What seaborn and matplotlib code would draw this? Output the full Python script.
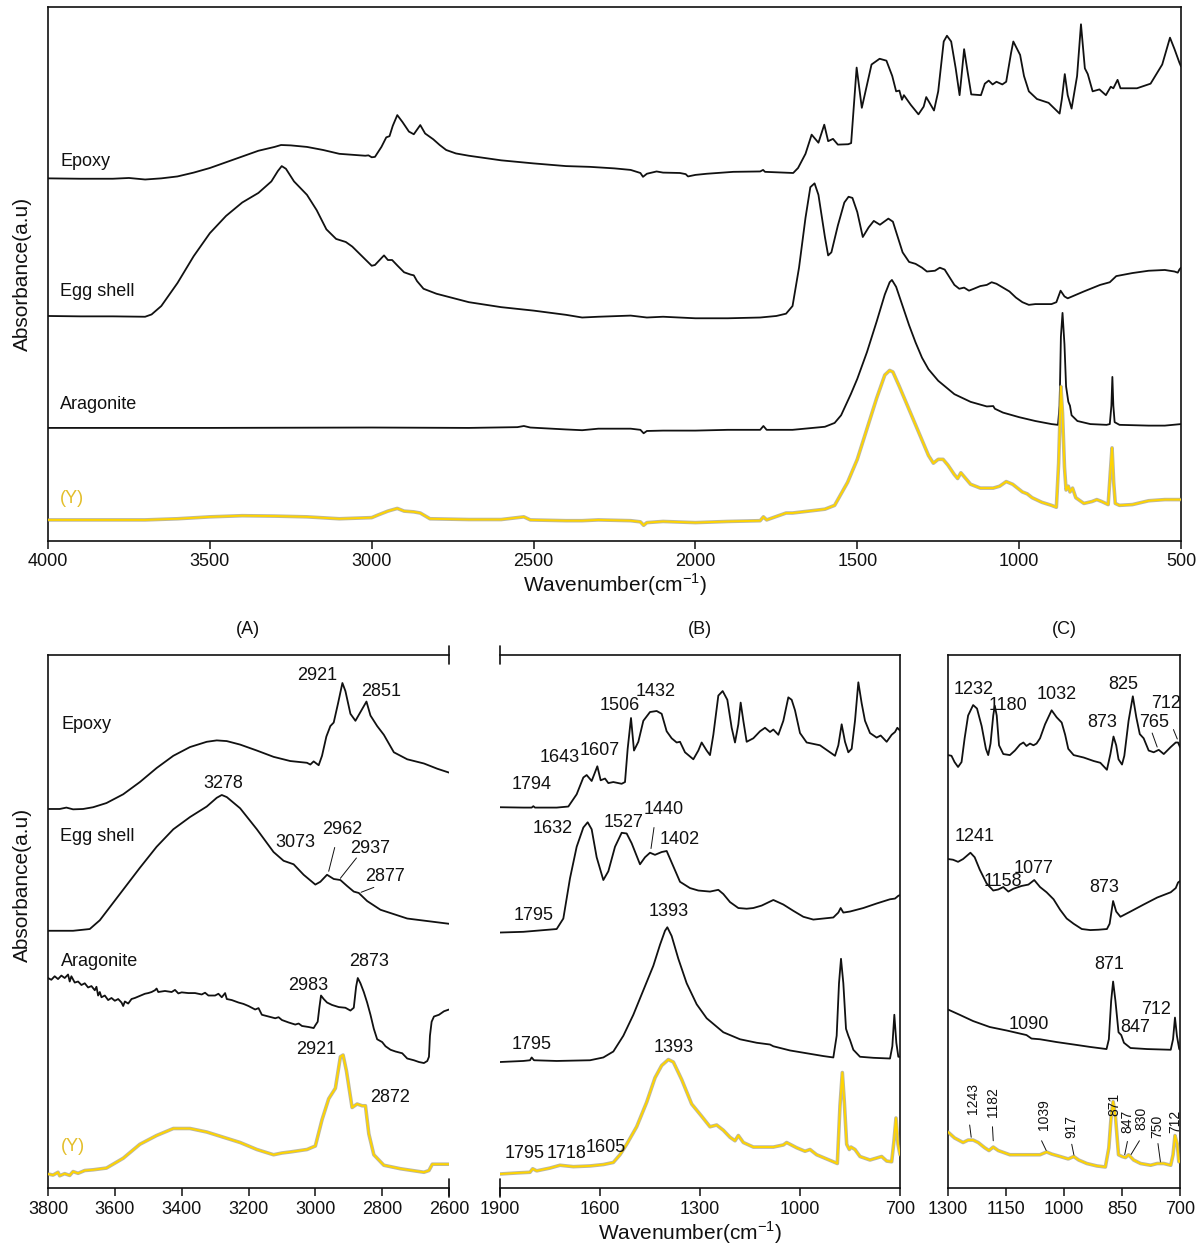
import matplotlib
matplotlib.use("Agg")
import matplotlib.pyplot as plt
import matplotlib.patheffects as pe
import seaborn as sns

sns.set_theme(style="ticks")
plt.rcParams["font.family"] = ["Liberation Sans", "DejaVu Sans"]
plt.rcParams["mathtext.fontset"] = "custom"
plt.rcParams["mathtext.rm"] = "Liberation Sans"

# ---------------- data: (wavenumber cm-1, absorbance a.u.) ----------------
TOP_EPOXY = [(4000,946),(3900,945),(3800,945),(3750,947),(3700,943),(3650,946),(3600,951),(3550,961),(3500,973),(3450,988),(3400,1003),(3350,1018),(3300,1028),(3280,1033),(3250,1032),(3200,1028),(3150,1020),(3100,1010),(3050,1007),(3020,1005),(3010,1006),(3000,1001),(2990,1002),(2970,1028),(2955,1053),(2945,1056),(2935,1083),(2921,1111),(2905,1093),(2885,1068),(2870,1061),(2860,1073),(2850,1085),(2835,1063),(2810,1048),(2790,1033),(2770,1020),(2740,1011),(2700,1005),(2600,993),(2500,985),(2400,978),(2326,976),(2250,972),(2200,968),(2170,960),(2162,950),(2150,958),(2120,964),(2100,961),(2048,960),(2030,957),(2023,951),(2000,955),(1965,958),(1883,963),(1800,964),(1791,968),(1785,963),(1698,960),(1683,973),(1660,1010),(1641,1060),(1620,1039),(1602,1086),(1590,1043),(1575,1049),(1560,1034),(1528,1035),(1519,1038),(1502,1235),(1486,1130),(1456,1243),(1431,1258),(1410,1253),(1392,1213),(1380,1173),(1370,1175),(1362,1151),(1356,1163),(1335,1138),(1311,1113),(1295,1133),(1287,1158),(1263,1123),(1250,1173),(1233,1303),(1223,1318),(1210,1303),(1196,1233),(1184,1163),(1178,1213),(1170,1283),(1160,1228),(1148,1165),(1118,1163),(1106,1193),(1094,1201),(1082,1191),(1070,1198),(1052,1191),(1040,1198),(1025,1273),(1018,1303),(997,1268),(985,1213),(970,1173),(945,1153),(909,1143),(885,1123),(875,1115),(868,1153),(859,1218),(850,1163),(838,1128),(821,1213),(809,1348),(797,1233),(788,1218),(773,1173),(752,1178),(732,1163),(717,1185),(709,1181),(696,1203),(687,1181),(636,1181),(594,1193),(558,1243),(534,1313),(520,1283),(505,1248),(500,1238)]
TOP_EGG = [(4000,587),(3900,586),(3800,586),(3700,585),(3680,591),(3650,613),(3600,673),(3550,743),(3500,803),(3450,848),(3400,883),(3350,908),(3310,938),(3290,965),(3278,978),(3265,971),(3240,938),(3200,903),(3170,863),(3140,813),(3110,788),(3080,780),(3060,768),(3030,743),(3000,718),(2990,720),(2970,738),(2962,745),(2950,733),(2937,733),(2920,718),(2900,701),(2880,695),(2870,693),(2860,678),(2840,658),(2800,645),(2700,623),(2600,610),(2500,601),(2400,590),(2350,583),(2300,585),(2200,588),(2150,583),(2100,585),(2000,581),(1900,581),(1800,583),(1750,587),(1720,593),(1700,613),(1680,713),(1660,843),(1645,923),(1632,933),(1620,903),(1600,793),(1590,745),(1580,753),(1560,823),(1540,883),(1527,898),(1515,895),(1500,858),(1483,793),(1465,818),(1449,835),(1430,825),(1404,841),(1390,833),(1375,793),(1360,753),(1340,728),(1320,723),(1300,713),(1285,703),(1260,705),(1245,713),(1230,708),(1215,688),(1200,668),(1185,658),(1170,661),(1155,653),(1140,658),(1120,665),(1100,668),(1085,675),(1070,671),(1050,661),(1030,651),(1010,635),(990,623),(970,616),(950,618),(900,618),(885,623),(872,653),(860,638),(850,633),(800,651),(750,668),(720,675),(700,691),(650,699),(600,705),(550,707),(520,703),(510,700),(505,708),(500,713)]
TOP_ARAG = [(4000,295),(3500,295),(3000,296),(2700,295),(2550,297),(2530,300),(2510,296),(2400,291),(2350,289),(2300,293),(2200,293),(2170,290),(2160,281),(2150,287),(2100,288),(2000,288),(1900,290),(1800,290),(1790,300),(1780,290),(1700,290),(1600,298),(1570,308),(1550,328),(1520,383),(1500,423),(1470,493),(1440,573),(1415,643),(1400,675),(1393,681),(1380,663),(1360,613),(1340,563),(1320,518),(1300,478),(1280,448),(1250,418),(1200,383),(1150,363),(1100,351),(1080,352),(1075,345),(1050,335),(1000,323),(950,313),(900,305),(880,303),(875,353),(871,533),(866,595),(860,513),(855,403),(848,363),(843,353),(838,328),(820,313),(780,305),(730,303),(720,305),(715,353),(712,428),(709,353),(705,310),(690,303),(600,301),(550,301),(500,305)]
TOP_Y = [(4000,55),(3700,55),(3600,58),(3500,63),(3400,66),(3300,65),(3200,63),(3100,58),(3000,61),(2980,68),(2950,78),(2921,85),(2900,78),(2870,76),(2850,73),(2820,58),(2700,56),(2600,56),(2530,63),(2510,55),(2400,53),(2350,53),(2300,55),(2200,53),(2170,50),(2160,41),(2150,48),(2100,51),(2000,48),(1900,51),(1800,53),(1790,63),(1780,55),(1720,73),(1700,73),(1650,78),(1600,83),(1570,93),(1550,123),(1530,153),(1500,213),(1470,293),(1440,373),(1415,433),(1400,445),(1390,441),(1370,403),(1340,343),(1320,303),(1300,263),(1280,223),(1265,203),(1250,213),(1235,213),(1220,198),(1200,173),(1190,163),(1180,178),(1170,168),(1150,148),(1120,138),(1080,138),(1060,143),(1040,155),(1020,148),(990,128),(975,123),(960,113),(930,101),(900,93),(885,88),(878,203),(871,403),(866,333),(860,193),(855,133),(848,143),(843,128),(835,138),(825,113),(800,98),(775,103),(760,108),(745,103),(725,95),(718,183),(713,243),(708,153),(703,98),(690,93),(650,95),(600,105),(550,108),(500,108)]

A_EPOXY = [(3800,1083),(3765,1083),(3745,1087),(3725,1082),(3695,1083),(3665,1088),(3625,1100),(3575,1125),(3525,1160),(3475,1200),(3425,1235),(3375,1260),(3325,1275),(3295,1279),(3265,1277),(3225,1267),(3175,1250),(3125,1232),(3075,1220),(3025,1215),(3015,1210),(3005,1219),(2990,1208),(2980,1235),(2967,1290),(2955,1320),(2945,1330),(2932,1385),(2919,1443),(2910,1420),(2895,1355),(2880,1335),(2865,1360),(2847,1390),(2835,1350),(2815,1320),(2795,1295),(2765,1245),(2725,1225),(2675,1213),(2635,1198),(2600,1187)]
A_EGG = [(3800,735),(3725,735),(3675,740),(3645,765),(3605,815),(3565,865),(3525,915),(3475,975),(3425,1025),(3375,1060),(3325,1090),(3295,1115),(3280,1123),(3265,1117),(3225,1085),(3175,1025),(3125,960),(3095,935),(3065,925),(3035,895),(3000,867),(2985,875),(2965,895),(2945,883),(2925,880),(2905,863),(2885,847),(2870,843),(2845,820),(2805,795),(2725,770),(2600,755)]
A_ARAG = [(3800,600),(3790,595),(3780,605),(3770,597),(3760,607),(3750,600),(3740,610),(3735,590),(3730,605),(3720,587),(3710,590),(3700,580),(3690,585),(3680,573),(3670,577),(3660,565),(3655,575),(3650,550),(3645,560),(3640,545),(3630,550),(3620,537),(3610,543),(3600,535),(3590,540),(3580,530),(3575,520),(3570,533),(3560,527),(3550,540),(3540,543),(3530,547),(3520,551),(3510,555),(3500,557),(3490,560),(3480,565),(3475,570),(3470,560),(3450,563),(3430,560),(3420,566),(3410,556),(3400,559),(3380,557),(3360,557),(3340,553),(3330,558),(3320,550),(3300,550),(3290,555),(3280,545),(3270,557),(3265,540),(3250,537),(3230,530),(3215,526),(3200,520),(3180,510),(3170,514),(3160,495),(3140,490),(3120,485),(3110,488),(3100,480),(3080,473),(3060,467),(3050,470),(3040,463),(3020,460),(3005,457),(3000,465),(2993,475),(2988,515),(2983,550),(2975,540),(2965,530),(2950,523),(2930,517),(2910,515),(2895,507),(2885,515),(2878,575),(2873,600),(2865,585),(2855,560),(2845,530),(2835,495),(2825,455),(2815,425),(2800,417),(2790,405),(2775,395),(2760,390),(2740,385),(2725,370),(2705,365),(2690,360),(2675,357),(2665,363),(2660,375),(2657,435),(2652,475),(2645,490),(2630,495),(2615,505),(2600,510)]
A_Y = [(3800,40),(3785,37),(3770,45),(3765,35),(3750,41),(3735,36),(3725,47),(3710,42),(3690,50),(3665,52),(3625,57),(3575,85),(3525,125),(3475,150),(3425,170),(3375,170),(3325,160),(3275,145),(3225,130),(3175,110),(3125,95),(3100,100),(3075,103),(3025,110),(3000,120),(2980,195),(2960,255),(2940,285),(2925,375),(2917,380),(2907,335),(2890,230),(2875,240),(2860,235),(2850,235),(2840,155),(2825,95),(2795,65),(2745,55),(2675,45),(2660,50),(2650,68),(2600,68)]

B_EPOXY = [(1900,1088),(1830,1087),(1805,1087),(1800,1091),(1795,1087),(1730,1087),(1695,1090),(1670,1125),(1650,1173),(1640,1180),(1625,1163),(1608,1205),(1598,1165),(1585,1170),(1575,1157),(1560,1160),(1535,1155),(1525,1160),(1517,1255),(1507,1343),(1498,1250),(1485,1275),(1470,1335),(1450,1360),(1430,1363),(1415,1355),(1400,1305),(1385,1285),(1370,1273),(1360,1275),(1345,1245),(1320,1225),(1305,1250),(1295,1273),(1280,1250),(1270,1237),(1260,1295),(1245,1407),(1232,1420),(1218,1395),(1205,1315),(1195,1273),(1185,1325),(1178,1387),(1170,1335),(1160,1275),(1140,1285),(1120,1305),(1105,1315),(1090,1303),(1080,1310),(1065,1295),(1050,1335),(1035,1402),(1025,1395),(1015,1365),(1000,1300),(980,1273),(940,1265),(910,1245),(895,1235),(885,1265),(875,1325),(865,1275),(855,1245),(845,1255),(835,1335),(825,1445),(815,1385),(805,1335),(790,1300),(770,1287),(758,1293),(740,1275),(725,1295),(715,1303),(708,1315),(700,1307)]
B_EGG = [(1900,730),(1830,732),(1730,740),(1710,770),(1690,885),(1670,975),(1650,1030),(1637,1045),(1625,1025),(1610,945),(1590,880),(1575,905),(1555,975),(1535,1015),(1520,1013),(1505,985),(1480,925),(1465,945),(1450,958),(1435,952),(1415,960),(1400,963),(1385,930),(1360,875),(1330,857),(1305,850),(1270,847),(1245,852),(1230,840),(1210,817),(1185,800),(1160,798),(1140,800),(1115,807),(1080,823),(1050,810),(1020,792),(990,775),(960,767),(930,770),(900,773),(885,787),(878,800),(870,787),(850,790),(810,800),(770,813),(730,825),(715,827),(705,835),(700,837)]
B_ARAG = [(1900,360),(1830,363),(1810,365),(1805,373),(1798,365),(1730,363),(1630,365),(1590,373),(1560,390),(1530,435),(1500,495),(1470,565),(1440,635),(1420,695),(1405,735),(1398,745),(1385,720),(1365,655),(1340,585),(1310,525),(1280,485),(1230,445),(1180,425),(1130,415),(1090,410),(1080,405),(1030,393),(980,385),(930,377),(900,373),(890,435),(883,585),(877,655),(870,585),(862,455),(855,435),(850,423),(840,395),(820,375),(780,372),(730,370),(723,405),(717,495),(711,415),(705,375),(700,375)]
B_Y = [(1900,40),(1850,43),(1810,45),(1802,55),(1790,49),(1750,57),(1720,65),(1680,61),(1630,63),(1590,67),(1560,73),(1540,95),(1520,125),(1490,175),(1460,245),(1435,315),(1415,350),(1395,367),(1380,360),(1355,310),(1325,240),(1295,205),(1270,175),(1250,180),(1230,165),(1210,145),(1195,135),(1185,150),(1170,130),(1140,117),(1080,117),(1050,123),(1040,130),(1010,115),(985,105),(970,110),(950,95),(900,75),(888,70),(880,235),(873,330),(867,245),(860,125),(852,110),(847,117),(835,110),(820,90),(790,80),(755,90),(740,77),(725,75),(718,135),(712,200),(706,125),(700,95)]

C_EPOXY = [(1300,1237),(1291,1235),(1283,1217),(1274,1203),(1265,1217),(1257,1285),(1248,1350),(1235,1380),(1225,1370),(1213,1320),(1202,1255),(1196,1237),(1190,1270),(1183,1350),(1179,1378),(1174,1350),(1168,1265),(1157,1240),(1140,1237),(1127,1250),(1114,1267),(1105,1273),(1097,1263),(1088,1270),(1079,1265),(1071,1270),(1062,1285),(1049,1325),(1032,1365),(1019,1345),(1006,1330),(997,1295),(989,1255),(975,1237),(949,1230),(923,1220),(906,1215),(889,1195),(880,1240),(872,1290),(865,1265),(859,1225),(850,1210),(844,1235),(833,1335),(822,1405),(813,1345),(804,1297),(794,1285),(781,1250),(768,1245),(755,1252),(742,1240),(724,1260),(711,1273),(705,1273),(700,1260)]
C_EGG = [(1300,940),(1287,938),(1274,932),(1261,940),(1242,958),(1231,945),(1218,910),(1200,870),(1183,850),(1170,853),(1157,860),(1144,847),(1131,855),(1110,863),(1092,867),(1077,880),(1062,860),(1045,845),(1027,825),(1010,795),(993,770),(975,755),(954,740),(932,737),(911,738),(889,740),(882,755),(873,820),(865,790),(854,775),(828,790),(794,810),(759,830),(724,845),(711,857),(705,873),(700,877)]
C_ARAG = [(1300,510),(1270,495),(1235,477),(1192,460),(1148,450),(1097,437),(1084,427),(1062,425),(1019,417),(975,410),(932,403),(890,397),(884,425),(878,535),(873,590),(867,535),(859,445),(852,437),(845,415),(828,400),(785,397),(724,395),(718,425),(713,487),(708,435),(702,397),(700,395)]
C_Y = [(1300,160),(1283,143),(1261,130),(1248,137),(1235,137),(1222,130),(1205,115),(1194,107),(1183,117),(1170,107),(1140,95),(1105,95),(1062,95),(1045,103),(1032,97),(1010,90),(989,83),(975,90),(962,80),(941,70),(915,63),(893,60),(884,115),(878,205),(873,247),(867,205),(859,95),(850,90),(841,87),(833,95),(820,80),(802,70),(776,65),(759,70),(742,70),(724,65),(718,95),(713,150),(707,125),(703,75),(700,75)]

# sample names and label anchor points (wavenumber, a.u.)
NAMES = ["Epoxy", "Egg shell", "Aragonite", "(Y)"]
TOP_NAME_POS = [(3962, 991), (3962, 650), (3962, 355), (3962, 111)]
A_NAME_POS = [(3760, 1325), (3763, 1005), (3760, 647), (3760, 120)]

TOP_TICKS = [4000, 3500, 3000, 2500, 2000, 1500, 1000, 500]
A_TICKS = [3800, 3600, 3400, 3200, 3000, 2800, 2600]
B_TICKS = [1900, 1600, 1300, 1000, 700]
C_TICKS = [1300, 1150, 1000, 850, 700]

A_PEAKS = [("2921", 2993, 1465), ("2851", 2803, 1420), ("3278", 3275, 1155), ("3073", 3060, 987),
           ("2962", 2920, 1023), ("2937", 2835, 970), ("2877", 2792, 890), ("2983", 3020, 580),
           ("2873", 2840, 647), ("2921", 2997, 395), ("2872", 2775, 260)]
A_LEADERS = [((2960, 905), (2942, 973)), ((2925, 885), (2877, 943)), ((2863, 845), (2825, 859))]
B_PEAKS = [("1794", 1805, 1152), ("1643", 1720, 1230), ("1607", 1602, 1250), ("1506", 1542, 1380),
           ("1432", 1432, 1420), ("1632", 1742, 1027), ("1527", 1530, 1045), ("1440", 1408, 1082),
           ("1402", 1360, 997), ("1795", 1800, 780), ("1393", 1395, 790), ("1795", 1805, 410),
           ("1393", 1380, 402), ("1795", 1825, 100), ("1718", 1700, 100), ("1605", 1582, 115)]
B_LEADERS = [((1447, 970), (1438, 1030))]
C_PEAKS = [("1232", 1235, 1425), ("1180", 1144, 1380), ("1032", 1020, 1410), ("825", 847, 1440),
           ("873", 902, 1330), ("712", 737, 1385), ("765", 767, 1330), ("1241", 1231, 1005),
           ("1158", 1157, 875), ("1077", 1079, 913), ("873", 896, 858), ("871", 884, 640),
           ("712", 763, 510), ("847", 817, 460), ("1090", 1092, 467)]
C_VPEAKS = [("1243", 1235, 255), ("1182", 1183, 245), ("1039", 1053, 210), ("917", 980, 175),
            ("871", 871, 240), ("847", 836, 190), ("830", 800, 200), ("750", 759, 175), ("712", 713, 190)]
C_LEADERS = [((772, 1300), (759, 1260)), ((717, 1310), (707, 1283)),
             ((1244, 180), (1240, 145)), ((1185, 175), (1183, 135)), ((1058, 135), (1045, 105)),
             ((980, 125), (974, 92)), ((836, 133), (843, 95)), ((805, 135), (827, 95)), ((757, 127), (750, 70))]

# ---------------- styling ----------------
W, H = 1203, 1247
BLACK = "#111111"
YELLOW = "#FFD400"
GOLD = "#E3BE2A"
FS = 13

fig = plt.figure(figsize=(W / 100, H / 100), dpi=100)

def fx(px):
    return px / W

def fy(py):
    return 1 - py / H

ax_top = fig.add_axes([fx(48), fy(541), fx(1181) - fx(48), fy(7) - fy(541)])
ax_a = fig.add_axes([fx(48), fy(1188), fx(449) - fx(48), fy(655) - fy(1188)])
ax_b = fig.add_axes([fx(500), fy(1188), fx(900) - fx(500), fy(655) - fy(1188)])
ax_c = fig.add_axes([fx(948), fy(1188), fx(1180) - fx(948), fy(655) - fy(1188)])

yel_fx = [pe.Stroke(linewidth=2.6, foreground="#9c9880", alpha=0.7), pe.Normal()]

def draw(ax, series):
    for i, s in enumerate(series):
        xs = [p[0] for p in s]
        ys = [p[1] for p in s]
        if i == 3:
            sns.lineplot(x=xs, y=ys, ax=ax, color=YELLOW, linewidth=1.4, sort=False,
                         estimator=None, legend=False, path_effects=yel_fx, zorder=3,
                         solid_joinstyle="round")
        else:
            sns.lineplot(x=xs, y=ys, ax=ax, color=BLACK, linewidth=1.3, sort=False,
                         estimator=None, legend=False, zorder=3, solid_joinstyle="round")

def style(ax, xlim, ticks, ylim):
    ax.set_xlim(*xlim)
    ax.set_ylim(*ylim)
    ax.set_xticks(ticks)
    ax.set_xticklabels([str(t) for t in ticks], fontsize=FS, color=BLACK)
    ax.set_yticks([])
    ax.set_xlabel("")
    ax.set_ylabel("")
    ax.tick_params(axis="x", direction="out", length=6, width=1.1, pad=3, color=BLACK)
    for sp in ax.spines.values():
        sp.set_color(BLACK)
        sp.set_linewidth(1.2)
    ax.set_facecolor("white")

draw(ax_top, [TOP_EPOXY, TOP_EGG, TOP_ARAG, TOP_Y])
style(ax_top, (4000, 500), TOP_TICKS, (0, 1393))
for name, (x, y) in zip(NAMES, TOP_NAME_POS):
    ax_top.text(x, y, name, fontsize=FS, ha="left", va="center",
                color=GOLD if name == "(Y)" else BLACK)

draw(ax_a, [A_EPOXY, A_EGG, A_ARAG, A_Y])
style(ax_a, (3800, 2600), A_TICKS, (0, 1523))
ax_a.spines["right"].set_visible(False)
for name, (x, y) in zip(NAMES, A_NAME_POS):
    ax_a.text(x, y, name, fontsize=FS, ha="left", va="center",
              color=GOLD if name == "(Y)" else BLACK)

draw(ax_b, [B_EPOXY, B_EGG, B_ARAG, B_Y])
style(ax_b, (1900, 700), B_TICKS, (0, 1523))
ax_b.spines["left"].set_visible(False)

draw(ax_c, [C_EPOXY, C_EGG, C_ARAG, C_Y])
style(ax_c, (1300, 700), C_TICKS, (0, 1523))

# broken-axis end bars
for ax, xe in ((ax_a, 2600), (ax_b, 1900)):
    for ye in (0, 1523):
        ax.plot([xe, xe], [ye - 26, ye + 26], color=BLACK, lw=1.2, clip_on=False, zorder=5)

def annotate(ax, peaks, leaders, rot=0, fs=FS):
    for lab, x, y in peaks:
        ax.text(x, y, lab, fontsize=fs, ha="center", va="center", rotation=rot, color=BLACK)
    for (x0, y0), (x1, y1) in leaders:
        ax.plot([x0, x1], [y0, y1], color=BLACK, lw=0.7)

annotate(ax_a, A_PEAKS, A_LEADERS)
annotate(ax_b, B_PEAKS, B_LEADERS)
annotate(ax_c, C_PEAKS, C_LEADERS)
annotate(ax_c, C_VPEAKS, [], rot=90, fs=10)

# axis titles and panel titles
fig.text(fx(22), fy(274), "Absorbance(a.u)", rotation=90, ha="center", va="center", fontsize=15, color=BLACK)
fig.text(fx(22), fy(885), "Absorbance(a.u)", rotation=90, ha="center", va="center", fontsize=15, color=BLACK)
fig.text(fx(615), fy(585), r"Wavenumber(cm$^{\mathregular{-1}}$)", ha="center", va="center", fontsize=15, color=BLACK)
fig.text(fx(690), fy(1233), r"Wavenumber(cm$^{\mathregular{-1}}$)", ha="center", va="center", fontsize=15, color=BLACK)
for lab, cx in (("(A)", 248), ("(B)", 700), ("(C)", 1064)):
    fig.text(fx(cx), fy(630), lab, ha="center", va="center", fontsize=FS, color=BLACK)

fig.savefig("out.png", dpi=100, facecolor="white")
